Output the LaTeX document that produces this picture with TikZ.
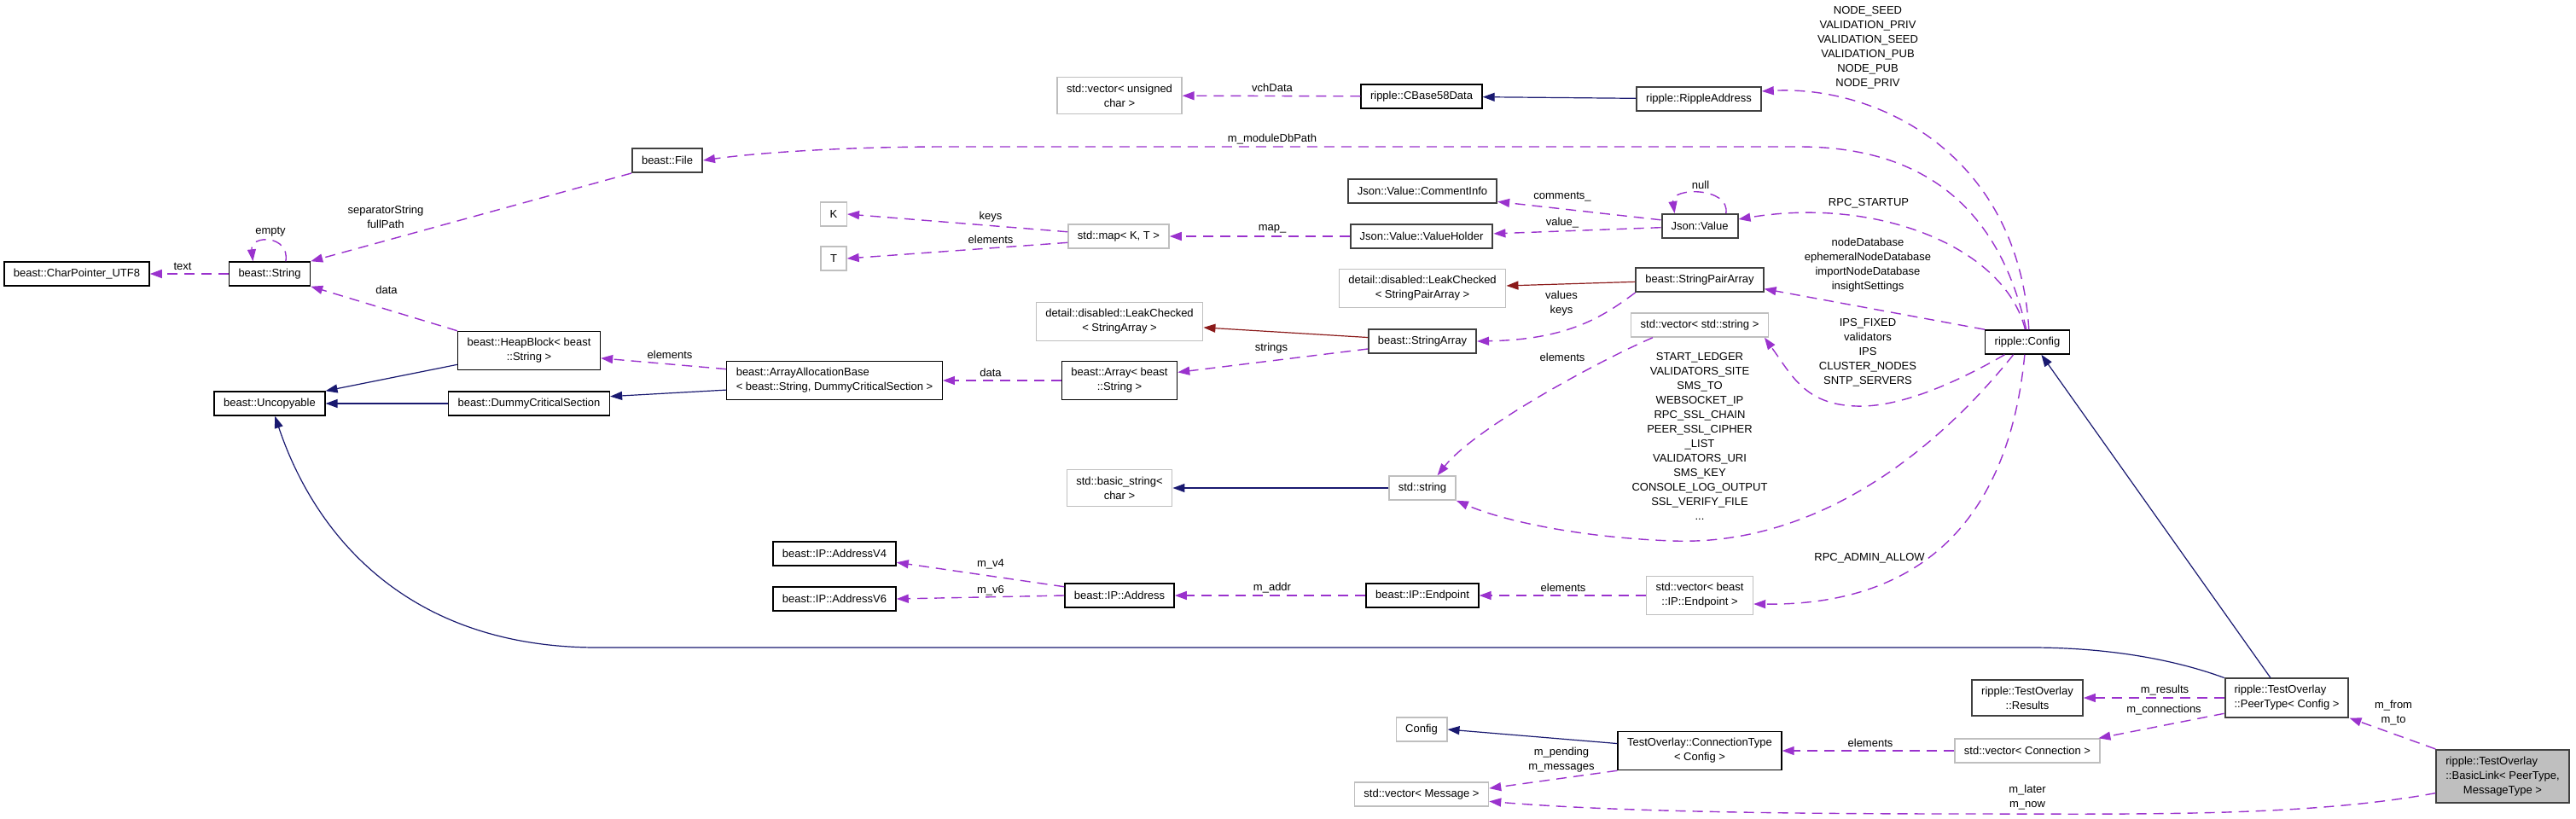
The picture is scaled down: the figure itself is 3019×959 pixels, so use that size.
\documentclass[tikz,border=0pt]{standalone}
\usepackage{fontspec}
\setmainfont{Liberation Sans}
\usetikzlibrary{arrows.meta}

\definecolor{usecol}{HTML}{9A32CD}
\definecolor{pubcol}{HTML}{191970}
\definecolor{privcol}{HTML}{8B1A1A}

\begin{document}
\begin{tikzpicture}[x=0.5pt, y=-0.5pt,
  font=\fontsize{6.5}{8.5}\selectfont, >={Triangle[length=7pt,width=5pt]},
  cls/.style={draw=black, line width=0.7pt, fill=white, inner xsep=5.5pt,
              inner ysep=4pt, minimum height=14pt, align=center},
  cls2/.style={cls, draw=black!75, line width=1pt},
  ext/.style={cls, draw=black!25},
  cur/.style={cls2, fill=black!25},
  use/.style={->, dash pattern=on 6pt off 4pt, line width=0.7pt, color=usecol},
  pub/.style={->, line width=0.6pt, color=pubcol},
  priv/.style={->, line width=0.6pt, color=privcol},
  lbl/.style={align=center, inner sep=0pt},
]
\useasboundingbox (0,0) rectangle (3019,959);

% classes
\node[cls] (cpu8) at (90,321) {beast::CharPointer\_UTF8};
\node[cls] (bstr) at (316,321) {beast::String};
\node[cls2] (bfile) at (782,188) {beast::File};
\node[cls] (heap) at (620,411) {beast::HeapBlock< beast\\::String >};
\node[cls] (uncop) at (316,473) {beast::Uncopyable};
\node[cls] (dummy) at (620,473) {beast::DummyCriticalSection};
\node[ext] (vuchar) at (1312,112) {std::vector< unsigned\\char >};
\node[ext] (kk) at (977,251) {K};
\node[ext] (tt) at (977,303) {T};
\node[ext] (smap) at (1311,277) {std::map< K, T >};
\node[ext] (lcsa) at (1312,377) {detail::disabled::LeakChecked\\< StringArray >};
\node[cls, align=left] (alloc) at (978,446) {beast::ArrayAllocationBase\\< beast::String, DummyCriticalSection >};
\node[cls] (arrb) at (1312,446) {beast::Array< beast\\::String >};
\node[ext] (bastr) at (1312,572) {std::basic\_string<\\char >};
\node[cls] (ipv4) at (978,649) {beast::IP::AddressV4};
\node[cls] (ipv6) at (978,702) {beast::IP::AddressV6};
\node[cls] (ipaddr) at (1312,698) {beast::IP::Address};
\node[cls] (cb58) at (1666,113) {ripple::CBase58Data};
\node[cls2] (comm) at (1667,224) {Json::Value::CommentInfo};
\node[cls2] (vhold) at (1666,277) {Json::Value::ValueHolder};
\node[ext] (lcspa) at (1667,338) {detail::disabled::LeakChecked\\< StringPairArray >};
\node[cls2] (sarr) at (1667,400) {beast::StringArray};
\node[ext] (sstr) at (1667,572) {std::string};
\node[cls] (endp) at (1667,698) {beast::IP::Endpoint};
\node[ext] (cfgx) at (1666,855) {Config};
\node[ext] (vmsg) at (1666,931) {std::vector< Message >};
\node[cls2] (raddr) at (1991,116) {ripple::RippleAddress};
\node[cls2] (jval) at (1992,265) {Json::Value};
\node[cls2] (spa) at (1992,328) {beast::StringPairArray};
\node[ext] (vstr) at (1992,381) {std::vector< std::string >};
\node[ext] (vendp) at (1992,698) {std::vector< beast\\::IP::Endpoint >};
\node[cls] (conn) at (1992,880) {TestOverlay::ConnectionType\\< Config >};
\node[cls] (config) at (2376,401) {ripple::Config};
\node[cls2] (results) at (2376,818) {ripple::TestOverlay\\::Results};
\node[ext] (vconn) at (2376,880) {std::vector< Connection >};
\node[cls2, align=left] (peer) at (2680,818) {ripple::TestOverlay\\::PeerType< Config >};
\node[cur] (blink) at (2933,910) {\rlap{ripple::TestOverlay}\phantom{::BasicLink< PeerType,}\\::BasicLink< PeerType,\\MessageType >};

% member labels
\node[lbl] (lText) at (214,312) {text};
\node[lbl] (lEmpty) at (317,272) {empty};
\node[lbl] (lSep) at (452,254) {separatorString\\fullPath};
\node[lbl] (lData1) at (453,340) {data};
\node[lbl] (lElem1) at (785,416) {elements};
\node[lbl] (lVch) at (1491,103) {vchData};
\node[lbl] (lDb) at (1491,163) {m\_moduleDbPath};
\node[lbl] (lKeys) at (1161,254) {keys};
\node[lbl] (lElem2) at (1161,281) {elements};
\node[lbl] (lMap) at (1491,268) {map\_};
\node[lbl] (lData2) at (1161,437) {data};
\node[lbl] (lStrs) at (1490,408) {strings};
\node[lbl] (lV4) at (1161,661) {m\_v4};
\node[lbl] (lV6) at (1161,692) {m\_v6};
\node[lbl] (lAddr) at (1491,689) {m\_addr};
\node[lbl] (lComm) at (1831,231) {comments\_};
\node[lbl] (lVal) at (1831,261) {value\_};
\node[lbl] (lVk) at (1830,356) {values\\keys};
\node[lbl] (lElem3) at (1831,419) {elements};
\node[lbl] (lElem4) at (1832,689) {elements};
\node[lbl] (lPend) at (1830,891) {m\_pending\\m\_messages};
\node[lbl] (lNull) at (1993,217) {null};
\node[lbl] (lSeed) at (2189,56) {NODE\_SEED\\VALIDATION\_PRIV\\VALIDATION\_SEED\\VALIDATION\_PUB\\NODE\_PUB\\NODE\_PRIV};
\node[lbl] (lRpc) at (2190,238) {RPC\_STARTUP};
\node[lbl] (lNdb) at (2189,311) {nodeDatabase\\ephemeralNodeDatabase\\importNodeDatabase\\insightSettings};
\node[lbl] (lIps) at (2189,413) {IPS\_FIXED\\validators\\IPS\\CLUSTER\_NODES\\SNTP\_SERVERS};
\node[lbl] (lStart) at (1992,511) {START\_LEDGER\\VALIDATORS\_SITE\\SMS\_TO\\WEBSOCKET\_IP\\RPC\_SSL\_CHAIN\\PEER\_SSL\_CIPHER\hspace*{18pt}\\\_LIST\\VALIDATORS\_URI\\SMS\_KEY\\CONSOLE\_LOG\_OUTPUT\\SSL\_VERIFY\_FILE\\...};
\node[lbl] (lAdm) at (2191,654) {RPC\_ADMIN\_ALLOW};
\node[lbl] (lElem5) at (2192,871) {elements};
\node[lbl] (lRes) at (2537,809) {m\_results};
\node[lbl] (lConn) at (2536,832) {m\_connections};
\node[lbl] (lFrom) at (2805,836) {m\_from\\m\_to};
\node[lbl] (lLater) at (2376,935) {m\_later\\m\_now};

% usage relations
\draw[use] (bstr) -- (cpu8);
\draw[use] (bstr.38) .. controls (340,275) and (293,275) .. (bstr.143);
\draw[use] (bfile.south west) -- (bstr.north east);
\draw[use] (heap.north west) -- (bstr.south east);
\draw[use] (config.95) .. controls (2340,230) and (2240,172) .. (2108,172) -- (1110,172) .. controls (980,172) and (880,180) .. (bfile.east);
\draw[use] (config.83) .. controls (2365,180) and (2200,100) .. (raddr.7);
\draw[use] (config.100) .. controls (2350,290) and (2200,230) .. (jval.10);
\draw[use] (config.north west) -- (spa.-8);
\draw[use] (config.209) .. controls (2290,450) and (2225,478) .. (2175,476) .. controls (2115,474) and (2100,440) .. (vstr.-11);
\draw[use] (config.222) .. controls (2260,540) and (2120,640) .. (1960,634) .. controls (1850,630) and (1760,610) .. (sstr.south east);
\draw[use] (config.258) .. controls (2355,600) and (2260,710) .. (vendp.-9);
\draw[use] (cb58) -- (vuchar);
\draw[use] (jval.171) -- (comm.-8);
\draw[use] (jval) -- (vhold);
\draw[use] (jval.26) .. controls (2028,219) and (1958,219) .. (jval.153);
\draw[use] (smap.175) -- (kk.east);
\draw[use] (smap.187) -- (tt.east);
\draw[use] (vhold) -- (smap);
\draw[use] (alloc.174) -- (heap.-6);
\draw[use] (arrb) -- (alloc);
\draw[use] (sarr.188) -- (arrb.8);
\draw[use] (spa.south west) .. controls (1880,370) and (1840,398) .. (sarr.east);
\draw[use] (vstr.195) .. controls (1880,420) and (1730,500) .. (sstr.40);
\draw[use] (ipaddr.171) -- (ipv4.-8);
\draw[use] (ipaddr.west) -- (ipv6.east);
\draw[use] (endp) -- (ipaddr);
\draw[use] (vendp) -- (endp);
\draw[use] (peer) -- (results);
\draw[use] (peer.194) -- (vconn.10);
\draw[use] (blink.north west) -- (peer.south east);
\draw[use] (vconn) -- (conn);
\draw[use] (conn.south west) -- (vmsg.5);
\draw[use] (blink.194) .. controls (2700,958) and (2500,954) .. (2300,954) .. controls (2000,954) and (1850,948) .. (vmsg.-6);

% inheritance
\draw[pub] (raddr) -- (cb58);
\draw[pub] (heap.191) -- (uncop.north east);
\draw[pub] (dummy) -- (uncop);
\draw[pub] (alloc.185) -- (dummy.5);
\draw[pub] (sstr) -- (bastr);
\draw[pub] (conn.175) -- (cfgx.east);
\draw[pub] (peer.129) -- (config.-42);
\draw[pub] (peer.north west) .. controls (2540,770) and (2460,759) .. (2380,759) -- (700,759) .. controls (480,759) and (370,630) .. (uncop.-67);
\draw[priv] (sarr.176) -- (lcsa.-4);
\draw[priv] (spa) -- (lcspa);
\end{tikzpicture}
\end{document}
